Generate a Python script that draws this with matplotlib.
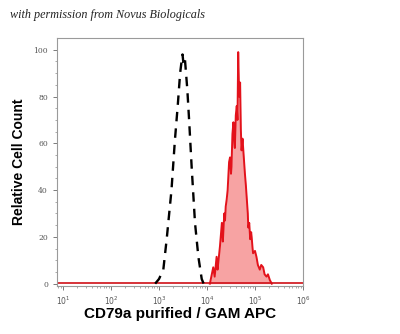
import matplotlib
matplotlib.use("Agg")
import matplotlib.pyplot as plt
import numpy as np
from matplotlib.ticker import LogLocator, NullFormatter, FixedLocator

# Isotype control (dashed black), x in log10 units
ctrl_log = [2.92, 3.00, 3.09, 3.16, 3.26, 3.33, 3.39, 3.44, 3.47, 3.49, 3.51, 3.54, 3.59, 3.63, 3.68, 3.75, 3.82, 3.89, 3.93]
ctrl_val = [0, 2, 6, 19, 40, 61, 76, 90, 95, 98, 94, 96, 83, 69, 50, 26, 11.5, 2, 0]

# CD79a stained sample (red filled)
red_log = [4.06, 4.10, 4.13, 4.16, 4.20, 4.22, 4.24, 4.27, 4.31, 4.33, 4.34, 4.36, 4.375, 4.39,
           4.41, 4.43, 4.44, 4.46, 4.48, 4.50, 4.51, 4.53, 4.55, 4.57, 4.58, 4.60, 4.62, 4.635,
           4.65, 4.67, 4.69, 4.705, 4.72, 4.74, 4.76, 4.78, 4.79, 4.81, 4.83, 4.85, 4.86, 4.88,
           4.90, 4.92, 4.93, 4.95, 4.96, 5.00, 5.03, 5.06, 5.10, 5.13, 5.17, 5.20, 5.24, 5.27,
           5.31, 5.35]
red_val = [0, 4, 7, 3, 11.5, 6, 10, 16, 26, 18, 22, 30, 27, 33,
           36, 40, 44, 52, 54, 47, 50, 64, 69, 60, 58, 72, 76, 70,
           99, 80, 86, 66, 57, 62, 56, 50, 47, 42, 36, 30, 24, 26,
           19, 22, 20, 15, 13, 14, 11.5, 8, 6, 8, 7, 4, 3, 4,
           1.5, 0]

x_ticks_exp = [1, 2, 3, 4, 5, 6]
y_ticks = [0, 20, 40, 60, 80, 100]

fig = plt.figure(figsize=(4.0, 3.34), dpi=100)
ax = fig.add_axes([0.1425, 0.1437, 0.615, 0.7423])

cx = 10 ** np.array(ctrl_log)
rx = 10 ** np.array(red_log)

ax.fill_between(rx, red_val, 0, color="#f7a3a3", lw=0)
ax.plot(rx, red_val, color="#e3121b", lw=1.4)
ax.plot([10 ** 0.875, 10 ** 6], [0.4, 0.4], color="#d01018", lw=1.2)
ax.plot(cx, ctrl_val, color="black", lw=1.7, ls=(0, (4, 3)))

ax.set_xscale("log")
ax.set_xlim(10 ** 0.875, 10 ** 6)
ax.set_ylim(-1, 105)

ax.xaxis.set_major_locator(FixedLocator([10 ** e for e in x_ticks_exp]))
ax.set_xticklabels([r"$10^{%d}$" % e for e in x_ticks_exp])
ax.xaxis.set_minor_locator(LogLocator(base=10, subs=np.arange(2, 10), numticks=20))
ax.xaxis.set_minor_formatter(NullFormatter())
ax.set_yticks(y_ticks)
ax.set_yticklabels([str(v) for v in y_ticks])
ax.set_yticks(np.arange(0, 101, 5), minor=True)

for s in ax.spines.values():
    s.set_color("#9a9a9a")
    s.set_linewidth(0.8)
ax.tick_params(axis="both", which="major", colors="#666666", labelsize=5.5, length=3, width=0.6,
               labelcolor="#555555")
ax.tick_params(axis="both", which="minor", colors="#888888", length=1.5, width=0.5)
for lab in ax.get_xticklabels() + ax.get_yticklabels():
    lab.set_family("DejaVu Serif")

ax.set_xlabel("CD79a purified / GAM APC", fontsize=11, fontweight="bold",
              family="Liberation Sans", labelpad=0)
ax.set_ylabel("Relative Cell Count", fontsize=10, fontweight="bold",
              family="Liberation Sans", labelpad=5)

fig.text(0.025, 0.955, "with permission from Novus Biologicals", fontsize=8.7,
         style="italic", family="Liberation Serif", color="#222222", va="center")

fig.savefig("out.png", dpi=100)
